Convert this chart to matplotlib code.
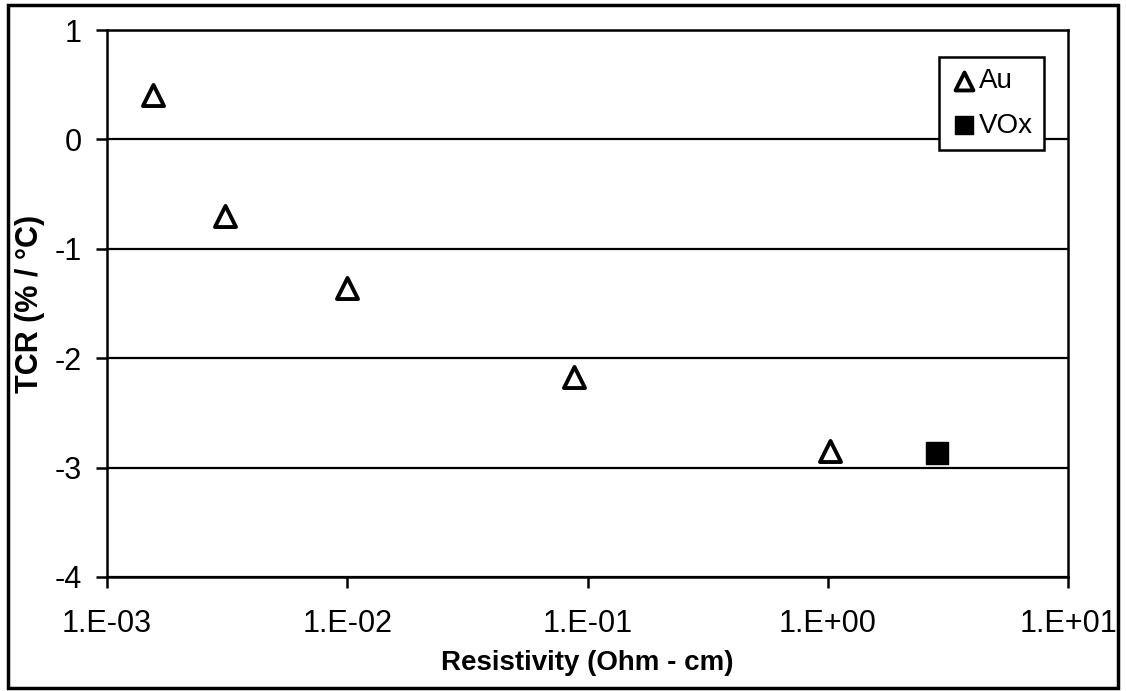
import numpy as np
import matplotlib.pyplot as plt
from matplotlib.patches import Rectangle

# Au films: resistivity (Ohm-cm) vs TCR (%/C)
au_rho = [1.55e-3, 3.1e-3, 1.0e-2, 8.8e-2, 1.02]
au_tcr = [0.41, -0.70, -1.36, -2.17, -2.85]

# VOx reference
vox_rho = [2.85]
vox_tcr = [-2.87]

x_ticks = [1e-3, 1e-2, 1e-1, 1e0, 1e1]
x_labels = ['1.E-03', '1.E-02', '1.E-01', '1.E+00', '1.E+01']

plt.rcParams['font.family'] = ['Liberation Sans', 'DejaVu Sans']
plt.rcParams['axes.unicode_minus'] = False

W, H = 1126, 691
fig = plt.figure(figsize=(W / 100, H / 100), dpi=100)
ax = fig.add_axes([107 / W, 1 - 577 / H, (1068 - 107) / W, (577 - 30) / H])

ax.set_xscale('log')
ax.set_xlim(1e-3, 1e1)
ax.set_ylim(-4, 1)
ax.set_yticks([-4, -3, -2, -1, 0, 1])
ax.set_xticks(x_ticks)
ax.set_xticklabels(x_labels)
ax.xaxis.set_minor_locator(plt.NullLocator())

ax.grid(True, axis='y', color='black', linewidth=1.6)
ax.set_axisbelow(True)
for s in ax.spines.values():
    s.set_linewidth(1.8)
ax.tick_params(direction='out', length=8, width=1.8, labelsize=22)
ax.tick_params(axis='x', pad=15)
ax.tick_params(axis='y', pad=10)

ax.scatter(au_rho, au_tcr, marker='^', s=230, facecolor='white',
           edgecolor='black', linewidths=2.8, label='Au', zorder=3)
ax.scatter(vox_rho, vox_tcr, marker='s', s=250, facecolor='black',
           edgecolor='black', label='VOx', zorder=3)

ax.set_xlabel('Resistivity (Ohm - cm)', fontsize=20, fontweight='bold', labelpad=8)
ax.set_ylabel('TCR (% / °C)', fontsize=22, fontweight='bold')
ax.yaxis.set_label_coords(-0.064, 0.5)

leg = ax.legend(loc='upper right', bbox_to_anchor=(0.975, 0.95), fontsize=20,
                frameon=True, fancybox=False, edgecolor='black',
                handletextpad=0.05, handlelength=1.0, borderpad=0.4,
                labelspacing=0.65, borderaxespad=0, markerscale=0.85)
leg.get_frame().set_linewidth(1.8)
leg.get_frame().set_alpha(1)

# outer frame around the whole chart
fig.patches.append(Rectangle((8 / W, 1 - 688 / H), (1118 - 8) / W, (688 - 5) / H,
                             transform=fig.transFigure, fill=False,
                             edgecolor='black', linewidth=2.5))

fig.savefig('out.png', dpi=100)
